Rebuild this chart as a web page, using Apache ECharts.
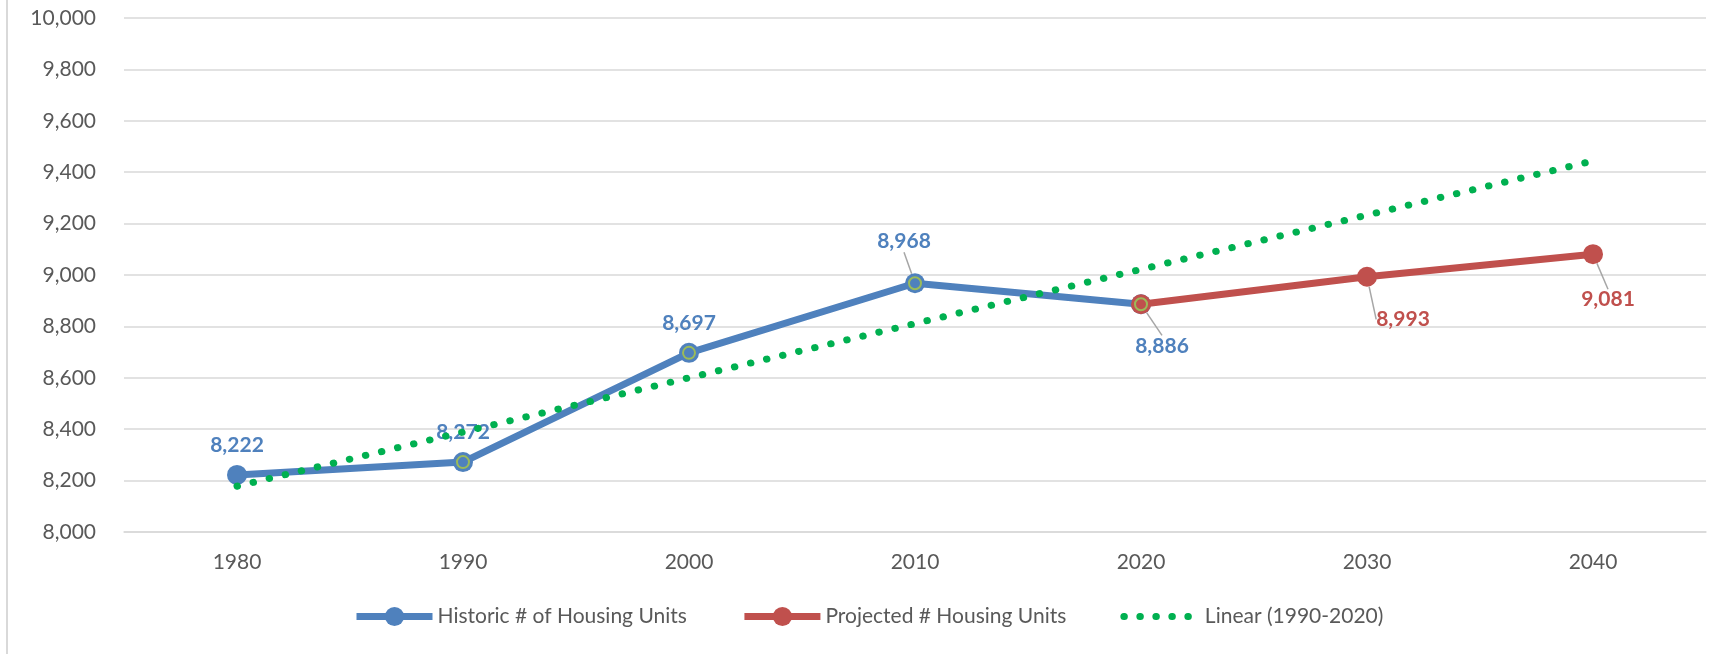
<!DOCTYPE html>
<html><head><meta charset="utf-8">
<script src="https://cdn.jsdelivr.net/npm/echarts@6/dist/echarts.min.js"></script>
<style>html,body{margin:0;padding:0;background:#fff}#c{width:1732px;height:654px}</style>
</head><body><div id="c"></div>
<script>
// ---- data ----
const years = ['1980', '1990', '2000', '2010', '2020', '2030', '2040'];
const historic = [8222, 8272, 8697, 8968, 8886, null, null];
const projected = [null, null, null, null, 8886, 8993, 9081];
const trendSource = [null, 8272, 8697, 8968, 8886, null, null];
const trendLine = [8178, null, null, null, null, null, 9444];
const seriesNames = ['Historic # of Housing Units', 'Projected # Housing Units', 'Linear (1990-2020)'];
const yMin = 8000, yMax = 10000, yStep = 200;

// ---- style ----
const FONT = 'Lato, "Liberation Sans", sans-serif';
const BLUE = '#4F81BD', RED = '#C0504D', GREEN = '#00B050', OLIVE = '#9BBB59';
const GRID = '#D9D9D9', TXT = '#595959';
const fmt = v => Number(v).toLocaleString('en-US');

// label offsets (dx, dy) relative to the default "top" position
const histMoves = {3: [-11, -12], 4: [21, 71]};
const projMoves = {5: [36, 72], 6: [15, 75]};
const mover = m => p => { const o = m[p.dataIndex]; return o ? {dx: o[0], dy: o[1]} : {}; };
const leaderOn = {show: true, lineStyle: {color: '#A6A6A6', width: 1.5}};

function buildData(values, moves, hideLabel) {
  return values.map((v, i) => {
    if (v == null) return v;
    const item = {value: v};
    if (hideLabel && hideLabel(i)) item.label = {show: false};
    else if (moves[i]) item.labelLine = leaderOn;
    return item;
  });
}

const labelBase = {
  show: true, position: 'top', distance: 9, fontFamily: FONT, fontSize: 21, fontWeight: 'bold',
  formatter: p => fmt(p.value)
};

const chart = echarts.init(document.getElementById('c'), null, {renderer: 'canvas'});
chart.setOption({
  animation: false,
  textStyle: {fontFamily: FONT},
  grid: {left: 124, right: 26, top: 18, bottom: 122, containLabel: false},
  graphic: [{type: 'line', shape: {x1: 7, y1: 0, x2: 7, y2: 654}, style: {stroke: GRID, lineWidth: 2}}],
  legend: {
    left: 353, top: 606, padding: 0, itemWidth: 76, itemHeight: 24, itemGap: 54,
    textStyle: {fontFamily: FONT, fontSize: 21, color: TXT},
    data: [
      {name: seriesNames[0], lineStyle: {width: 7}},
      {name: seriesNames[1], lineStyle: {width: 7}},
      {name: seriesNames[2], lineStyle: {width: 7, type: [0.5, 15.5], cap: 'round'},
       itemStyle: {color: 'rgba(0,0,0,0)', borderWidth: 0, opacity: 0}}
    ]
  },
  xAxis: {
    type: 'category', data: years, boundaryGap: true,
    axisLine: {show: true, lineStyle: {color: GRID, width: 1.5}},
    axisTick: {show: false},
    axisLabel: {color: TXT, fontSize: 21, fontFamily: FONT, margin: 20}
  },
  yAxis: {
    type: 'value', min: yMin, max: yMax, interval: yStep,
    axisLine: {show: false}, axisTick: {show: false},
    splitLine: {lineStyle: {color: GRID, width: 1.5}},
    axisLabel: {color: TXT, fontSize: 21, fontFamily: FONT, margin: 28, formatter: v => fmt(v)}
  },
  series: [
    {
      name: seriesNames[0], type: 'line', z: 2,
      data: buildData(historic, histMoves),
      symbol: 'circle', symbolSize: 20, showAllSymbol: true,
      lineStyle: {color: BLUE, width: 7}, itemStyle: {color: BLUE},
      label: Object.assign({}, labelBase, {color: BLUE}),
      labelLine: {show: false}, labelLayout: mover(histMoves)
    },
    {
      name: seriesNames[1], type: 'line', z: 3,
      data: buildData(projected, projMoves, i => historic[i] != null),
      symbol: 'circle', symbolSize: 20, showAllSymbol: true,
      lineStyle: {color: RED, width: 7}, itemStyle: {color: RED},
      label: Object.assign({}, labelBase, {color: RED}),
      labelLine: {show: false}, labelLayout: mover(projMoves)
    },
    {
      name: 'trend source', type: 'line', data: trendSource, z: 4, silent: true,
      symbol: 'circle', symbolSize: 12, showAllSymbol: true,
      lineStyle: {opacity: 0, width: 0},
      itemStyle: {color: 'rgba(0,0,0,0)', borderColor: OLIVE, borderWidth: 2}
    },
    {
      name: seriesNames[2], type: 'line', data: trendLine, z: 5, connectNulls: true,
      symbol: 'none', silent: true,
      lineStyle: {color: GREEN, width: 7, type: [0.5, 16], cap: 'round'},
      itemStyle: {color: GREEN}
    }
  ]
});
</script></body></html>
